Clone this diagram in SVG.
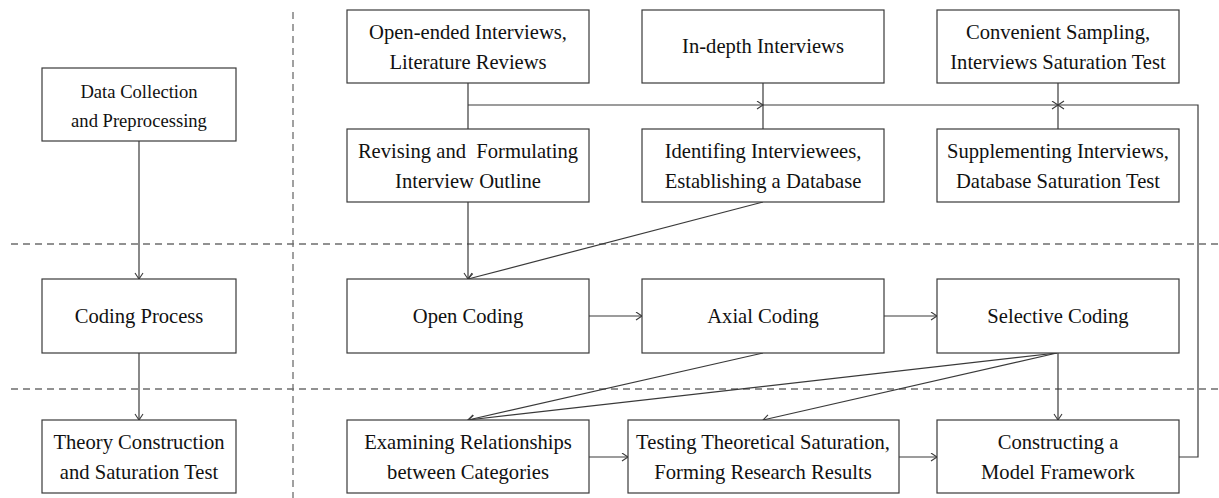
<svg xmlns="http://www.w3.org/2000/svg" width="1219" height="498" viewBox="0 0 1219 498">
<style>
.box{fill:#fff;stroke:#3a3a3a;stroke-width:1.2}
.t{font-family:"Liberation Serif","Times New Roman",serif;font-size:20.6px;fill:#111;text-anchor:middle;white-space:pre}
.ts{font-size:18.6px}
.ln{fill:none;stroke:#3a3a3a;stroke-width:1.2}
.dash{fill:none;stroke:#6e6e6e;stroke-width:1.3;stroke-dasharray:7 5}
</style>
<defs>
<marker id="arr" markerUnits="userSpaceOnUse" markerWidth="10" markerHeight="10" refX="7" refY="4.5" orient="auto" viewBox="0 0 10 10">
<path d="M1,0.5 L7,4.5 L1,8.5" fill="none" stroke="#3a3a3a" stroke-width="1.1"/>
</marker>
</defs>
<rect width="1219" height="498" fill="#fff"/>
<g id="separators">
<line class="dash" x1="11" y1="244" x2="1219" y2="244"/>
<line class="dash" x1="11" y1="389" x2="1219" y2="389"/>
<line class="dash" x1="293" y1="12" x2="293" y2="498"/>
</g>
<g id="connectors">
<line class="ln" x1="139" y1="141" x2="139" y2="279" marker-end="url(#arr)"/>
<line class="ln" x1="139" y1="353" x2="139" y2="420" marker-end="url(#arr)"/>
<line class="ln" x1="468" y1="83" x2="468" y2="129"/>
<line class="ln" x1="763" y1="83" x2="763" y2="129"/>
<line class="ln" x1="1058" y1="83" x2="1058" y2="129"/>
<line class="ln" x1="468" y1="105" x2="763" y2="105" marker-end="url(#arr)"/>
<line class="ln" x1="763" y1="105" x2="1058" y2="105" marker-end="url(#arr)"/>
<polyline class="ln" points="1179,457 1198,457 1198,105 1058,105" marker-end="url(#arr)"/>
<line class="ln" x1="468" y1="202" x2="468" y2="279" marker-end="url(#arr)"/>
<line class="ln" x1="763" y1="202" x2="468" y2="279" marker-end="url(#arr)"/>
<line class="ln" x1="589" y1="316" x2="642" y2="316" marker-end="url(#arr)"/>
<line class="ln" x1="884" y1="316" x2="937" y2="316" marker-end="url(#arr)"/>
<line class="ln" x1="763" y1="353" x2="468" y2="420" marker-end="url(#arr)"/>
<line class="ln" x1="1057" y1="353" x2="468" y2="420" marker-end="url(#arr)"/>
<line class="ln" x1="1057" y1="353" x2="763" y2="420" marker-end="url(#arr)"/>
<line class="ln" x1="1058" y1="353" x2="1058" y2="420" marker-end="url(#arr)"/>
<line class="ln" x1="589" y1="457" x2="628" y2="457" marker-end="url(#arr)"/>
<line class="ln" x1="899" y1="457" x2="937" y2="457" marker-end="url(#arr)"/>
</g>
<g id="n-data">
<rect class="box" x="42" y="68" width="194" height="73"/>
<text class="t ts" x="139" y="98">Data Collection</text>
<text class="t ts" x="139" y="127">and Preprocessing</text>
</g>
<g id="n-coding">
<rect class="box" x="42" y="279" width="194" height="74"/>
<text class="t" x="139" y="323">Coding Process</text>
</g>
<g id="n-theory">
<rect class="box" x="42" y="420" width="194" height="73"/>
<text class="t" x="139" y="449">Theory Construction</text>
<text class="t" x="139" y="479">and Saturation Test</text>
</g>
<g id="n-openended">
<rect class="box" x="347" y="10" width="242" height="73"/>
<text class="t" x="468" y="39">Open-ended Interviews,</text>
<text class="t" x="468" y="69">Literature Reviews</text>
</g>
<g id="n-indepth">
<rect class="box" x="642" y="10" width="242" height="73"/>
<text class="t" x="763" y="53">In-depth Interviews</text>
</g>
<g id="n-convenient">
<rect class="box" x="937" y="10" width="242" height="73"/>
<text class="t" x="1058" y="39">Convenient Sampling,</text>
<text class="t" x="1058" y="69">Interviews Saturation Test</text>
</g>
<g id="n-revising">
<rect class="box" x="347" y="129" width="242" height="73"/>
<text class="t" x="468" y="158">Revising and  Formulating</text>
<text class="t" x="468" y="188">Interview Outline</text>
</g>
<g id="n-identifing">
<rect class="box" x="642" y="129" width="242" height="73"/>
<text class="t" x="763" y="158">Identifing Interviewees,</text>
<text class="t" x="763" y="188">Establishing a Database</text>
</g>
<g id="n-supplementing">
<rect class="box" x="937" y="129" width="242" height="73"/>
<text class="t" x="1058" y="158">Supplementing Interviews,</text>
<text class="t" x="1058" y="188">Database Saturation Test</text>
</g>
<g id="n-open">
<rect class="box" x="347" y="279" width="242" height="74"/>
<text class="t" x="468" y="323">Open Coding</text>
</g>
<g id="n-axial">
<rect class="box" x="642" y="279" width="242" height="74"/>
<text class="t" x="763" y="323">Axial Coding</text>
</g>
<g id="n-selective">
<rect class="box" x="937" y="279" width="242" height="74"/>
<text class="t" x="1058" y="323">Selective Coding</text>
</g>
<g id="n-examining">
<rect class="box" x="347" y="420" width="242" height="73"/>
<text class="t" x="468" y="449">Examining Relationships</text>
<text class="t" x="468" y="479">between Categories</text>
</g>
<g id="n-testing">
<rect class="box" x="628" y="420" width="271" height="73"/>
<text class="t" x="763" y="449">Testing Theoretical Saturation,</text>
<text class="t" x="763" y="479">Forming Research Results</text>
</g>
<g id="n-constructing">
<rect class="box" x="937" y="420" width="242" height="73"/>
<text class="t" x="1058" y="449">Constructing a</text>
<text class="t" x="1058" y="479">Model Framework</text>
</g>
</svg>
